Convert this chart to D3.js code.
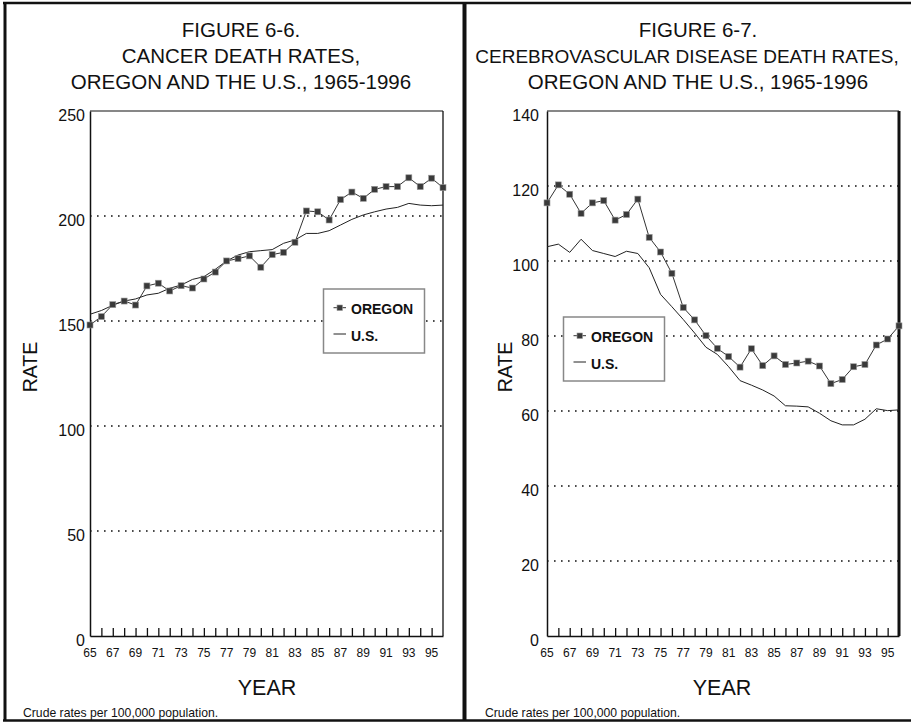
<!DOCTYPE html>
<html>
<head>
<meta charset="utf-8">
<script src="https://cdn.jsdelivr.net/npm/d3@7"></script>
<style>
  html, body { margin: 0; padding: 0; background: #fff; }
  svg { display: block; font-family: "Liberation Sans", Arial, sans-serif; }
</style>
</head>
<body>
<svg id="chart" width="911" height="723"></svg>
<script>
// ---------- data ----------
const years = [65,66,67,68,69,70,71,72,73,74,75,76,77,78,79,80,81,82,83,84,85,86,87,88,89,90,91,92,93,94,95,96];
const yearLabels = [65,67,69,71,73,75,77,79,81,83,85,87,89,91,93,95];

const cancerOregon = [148.1,152.1,157.8,159.5,157.6,166.7,168,164.3,166.8,165.7,170,173.3,178.6,179.7,181,175.6,181.6,182.7,187.5,202.4,202,198.1,207.8,211.4,208.4,212.7,214,214,218.2,214,218,213.5];
const cancerUS     = [153.2,155,157.5,159.5,160.5,162.4,163.2,165.6,167.1,169.8,171.1,174.6,178.6,181.4,183,183.5,184,187,188.6,191.7,191.7,193,195.7,198.4,200.5,202,203.3,204.1,206,205.2,204.9,205.2];
const cancerTicks  = [0,50,100,150,200,250];

const strokeOregon = [115.5,120.3,117.8,112.7,115.5,116.1,110.9,112.4,116.5,106.3,102.4,96.7,87.6,84.3,80.1,76.7,74.5,71.7,76.6,72.1,74.7,72.4,72.8,73.3,72,67.3,68.4,71.8,72.4,77.6,79.2,82.7];
const strokeUS     = [103.8,104.5,102.3,105.8,102.8,102,101.2,102.6,102,98.2,91.1,87.8,84.4,80.8,77,75.1,71.8,68.1,66.9,65.6,64,61.4,61.3,61.1,59.4,57.4,56.3,56.3,57.8,60.6,60.1,60.3];
const strokeTicks  = [0,20,40,60,80,100,120,140];

const titles1 = ["FIGURE 6-6.", "CANCER DEATH RATES,", "OREGON AND THE U.S., 1965-1996"];
const titles2 = ["FIGURE 6-7.", "CEREBROVASCULAR DISEASE DEATH RATES,", "OREGON AND THE U.S., 1965-1996"];
const seriesNames = ["OREGON", "U.S."];
const footnote = "Crude rates per 100,000 population.";

// ---------- drawing ----------
const svg = d3.select("#chart");

// outer frames
const frame = svg.append("g").attr("fill", "none").attr("stroke", "#111");
frame.append("line").attr("x1", 5).attr("x2", 5).attr("y1", 2).attr("y2", 721).attr("stroke-width", 3);
frame.append("line").attr("x1", 3).attr("x2", 911).attr("y1", 3).attr("y2", 3).attr("stroke-width", 2.5);
frame.append("line").attr("x1", 464.5).attr("x2", 464.5).attr("y1", 2).attr("y2", 721).attr("stroke-width", 4);
frame.append("line").attr("x1", 3).attr("x2", 911).attr("y1", 720.5).attr("y2", 720.5).attr("stroke-width", 2.5);

function panel(opt) {
  const g = svg.append("g");
  const x = d3.scaleLinear().domain([65, 96]).range([opt.left, opt.right]);
  const y = d3.scaleLinear().domain([0, opt.max]).range([636, 111]);

  // titles
  opt.titles.forEach((t, i) => {
    const long = i === 1 && opt.longTitle;
    g.append("text")
      .attr("x", long ? opt.longTitle.x : opt.titleX)
      .attr("y", [37, 63, 89][i])
      .attr("text-anchor", "middle")
      .attr("font-size", long ? opt.longTitle.size : 20.5)
      .attr("fill", "#111")
      .text(t);
  });

  // gridlines
  g.append("g").selectAll("line")
    .data(opt.ticks.filter(v => v > 0 && v < opt.max))
    .join("line")
    .attr("x1", opt.left).attr("x2", opt.right)
    .attr("y1", d => y(d)).attr("y2", d => y(d))
    .attr("stroke", "#111").attr("stroke-width", 1.5)
    .attr("stroke-dasharray", "1.6,5.4");

  // frame of plot
  g.append("line").attr("x1", opt.left).attr("x2", opt.right).attr("y1", y(opt.max)).attr("y2", y(opt.max))
    .attr("stroke", "#111").attr("stroke-width", 1.2);
  g.append("line").attr("x1", opt.right).attr("x2", opt.right).attr("y1", y(opt.max)).attr("y2", y(0))
    .attr("stroke", "#111").attr("stroke-width", opt.rightWidth);

  // y axis
  const yAxis = d3.axisLeft(y).tickValues(opt.ticks).tickSize(0).tickPadding(opt.yPad);
  const ya = g.append("g").attr("transform", `translate(${opt.left},0)`).call(yAxis);
  ya.select(".domain").attr("stroke", "#111").attr("stroke-width", 1.5);
  ya.selectAll("text").attr("font-size", 16).attr("fill", "#111").attr("dy", "0.58em")
    .attr("font-family", "Liberation Sans, Arial, sans-serif");

  // x axis
  const xAxis = d3.axisBottom(x).tickValues(years.slice(1, -1)).tickSizeInner(-8).tickSizeOuter(0).tickFormat("");
  const xa = g.append("g").attr("transform", `translate(0,${y(0)})`).call(xAxis);
  xa.select(".domain").attr("stroke", "#111").attr("stroke-width", 1.5);
  xa.selectAll(".tick line").attr("stroke", "#111").attr("stroke-width", 1.3);

  g.append("g").selectAll("text").data(yearLabels).join("text")
    .attr("x", d => x(d)).attr("y", 657)
    .attr("text-anchor", "middle").attr("font-size", 12).attr("fill", "#111")
    .text(d => d);

  // series
  const line = d3.line().x((d, i) => x(years[i])).y(d => y(d));
  g.append("path").datum(opt.us).attr("d", line)
    .attr("fill", "none").attr("stroke", "#222").attr("stroke-width", 1);
  g.append("path").datum(opt.oregon).attr("d", line)
    .attr("fill", "none").attr("stroke", "#333").attr("stroke-width", 1);
  g.append("g").selectAll("rect").data(opt.oregon).join("rect")
    .attr("x", (d, i) => x(years[i]) - 3).attr("y", d => y(d) - 3)
    .attr("width", 6).attr("height", 6)
    .attr("fill", "#3a3a3a").attr("stroke", "#999").attr("stroke-width", 0.6);

  // axis titles
  g.append("text")
    .attr("transform", `translate(${opt.rateX},${367}) rotate(-90)`)
    .attr("text-anchor", "middle").attr("font-size", 19.5).attr("fill", "#111")
    .text("RATE");
  g.append("text")
    .attr("x", opt.yearX).attr("y", 695)
    .attr("text-anchor", "middle").attr("font-size", 21.5).attr("fill", "#111")
    .text("YEAR");
  g.append("text")
    .attr("x", opt.noteX).attr("y", 717)
    .attr("font-size", 12.2).attr("fill", "#111")
    .text(footnote);

  // legend
  const lg = g.append("g").attr("transform", `translate(${opt.legend[0]},${opt.legend[1]})`);
  lg.append("rect").attr("width", 101).attr("height", 64)
    .attr("fill", "#fff").attr("stroke", "#888").attr("stroke-width", 1.5);
  lg.append("line").attr("x1", 10).attr("x2", 22.5).attr("y1", 18.7).attr("y2", 18.7)
    .attr("stroke", "#333").attr("stroke-width", 1);
  lg.append("rect").attr("x", 13.5).attr("y", 16).attr("width", 5.5).attr("height", 5.5)
    .attr("fill", "#3a3a3a").attr("stroke", "#999").attr("stroke-width", 0.6);
  lg.append("line").attr("x1", 10).attr("x2", 22.5).attr("y1", 45).attr("y2", 45)
    .attr("stroke", "#222").attr("stroke-width", 1);
  lg.append("text").attr("x", 27.5).attr("y", 25.3).attr("font-size", 14).attr("font-weight", "bold")
    .attr("fill", "#111").text(seriesNames[0]);
  lg.append("text").attr("x", 27.5).attr("y", 52.3).attr("font-size", 14).attr("font-weight", "bold")
    .attr("fill", "#111").text(seriesNames[1]);
}

panel({
  left: 90, right: 443, max: 250, ticks: cancerTicks,
  oregon: cancerOregon, us: cancerUS, titles: titles1, titleX: 241,
  yPad: 5, rightWidth: 1.3, rateX: 37, yearX: 267, noteX: 23,
  legend: [323.5, 289]
});
panel({
  left: 547, right: 899, max: 140, ticks: strokeTicks,
  oregon: strokeOregon, us: strokeUS, titles: titles2, titleX: 698,
  longTitle: { x: 687, size: 19 },
  yPad: 8, rightWidth: 3, rateX: 512, yearX: 722, noteX: 485,
  legend: [563.5, 317]
});
</script>
</body>
</html>
